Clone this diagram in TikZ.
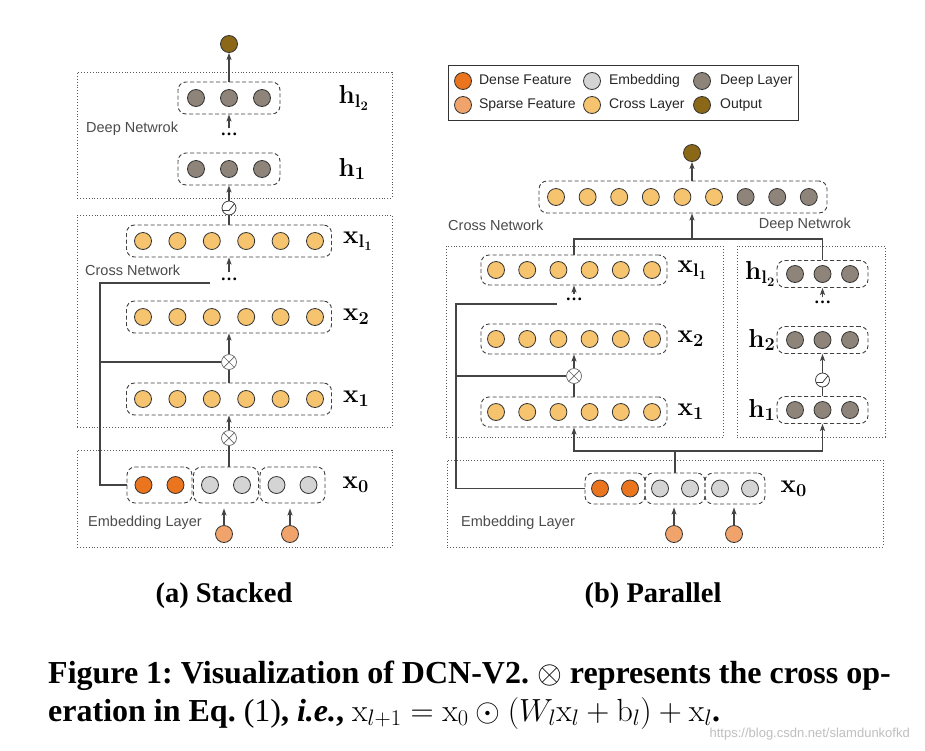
\documentclass[tikz,border=0pt]{standalone}
\usepackage{fix-cm}
\usepackage[no-math]{fontspec}
\setmainfont{Liberation Serif}
\setsansfont{Liberation Sans}
\usepackage{tikz}
\usetikzlibrary{arrows.meta,positioning}
\definecolor{densec}{RGB}{234,117,30}
\definecolor{sparsec}{RGB}{241,163,108}
\definecolor{embc}{RGB}{212,212,212}
\definecolor{crossc}{RGB}{246,196,110}
\definecolor{deepc}{RGB}{142,132,122}
\definecolor{outc}{RGB}{139,104,24}
\definecolor{linec}{RGB}{68,68,68}
\tikzset{
    neuron/.style={
           circle,
           draw=black!80, line width=0.8pt,
           inner sep=0pt,
           minimum size=17pt,
           },
    denseu/.style={neuron, fill=densec},
    sparseu/.style={neuron, fill=sparsec},
    embu/.style={neuron, fill=embc},
    crossu/.style={neuron, fill=crossc},
    deepu/.style={neuron, fill=deepc},
    outu/.style={neuron, fill=outc},
}
\tikzset{
    rowbox/.style={
           rectangle,
           rounded corners=8pt,
           draw=black!75, line width=0.9pt,
           dash pattern=on 4pt off 2.5pt,
           inner sep=0pt,
           },
    net/.style={
           rectangle,
           draw=black!65, line width=0.9pt,
           dash pattern=on 0.9pt off 2pt,
           inner sep=0pt,
           },
    conn/.style={draw=linec, line width=1.1pt},
    conn arrow/.style={conn, -{Stealth[length=7pt,width=5pt,inset=1.5pt]}},
    crossop/.style={
           circle,
           draw=black!60, fill=white, line width=0.7pt,
           inner sep=0pt, minimum size=15pt,
           path picture={\draw[black!60, line width=0.7pt]
              (path picture bounding box.north west) -- (path picture bounding box.south east)
              (path picture bounding box.north east) -- (path picture bounding box.south west);},
           },
    relu/.style={
           circle,
           draw=black!75, fill=white, line width=0.8pt,
           inner sep=0pt, minimum size=14pt,
           path picture={\draw[black!75, line width=0.8pt]
              ([shift={(-8pt,-2.5pt)}]path picture bounding box.center)
              -- ([shift={(0pt,-2.5pt)}]path picture bounding box.center)
              -- ([shift={(6pt,5pt)}]path picture bounding box.center);},
           },
    lbl/.style={font=\sffamily\fontsize{14.5}{16}\selectfont, text=black!70, inner sep=0pt},
    lgtxt/.style={font=\sffamily\fontsize{14}{16}\selectfont, text=black!85, inner sep=0pt,
           text height=10pt, text depth=3pt},
    varlbl/.style={font=\fontsize{26}{26}\selectfont, inner sep=0pt},
    ellip/.style={font=\bfseries\fontsize{17}{17}\selectfont, inner sep=0pt},
    capt/.style={font=\frenchspacing\bfseries\fontsize{32}{36}\selectfont, anchor=base west, inner sep=0pt},
}

\begin{document}
\begin{tikzpicture}[x=1pt,y=-1pt]
\useasboundingbox[fill=white] (0,0) rectangle (925,750);

% (a) stacked
\node[net, minimum width=315pt, minimum height=126pt](adeep) at (234.5,135){};
\node[net, minimum width=315pt, minimum height=212pt](across) at (234.5,321){};
\node[net, minimum width=315pt, minimum height=97pt](aemb) at (234.5,498.5){};
\node[lbl, anchor=west](adeeplbl) at (86,129){Deep Netwrok};
\node[lbl, anchor=west](acrosslbl) at (85,270){Cross Network};
\node[lbl, anchor=west](aemblbl) at (88,523){Embedding Layer};

\node[outu](aout) at (229,44){};
\node[rowbox, minimum width=102pt, minimum height=32pt](ahl2) at (229,98){};
\foreach \i in {1,2,3} \node[deepu](ahl2-\i) at ({229+33*(\i-2)},98){};
\node[ellip](ahdots) at (229,134){\ldots};
\node[rowbox, minimum width=102pt, minimum height=32pt](ah1) at (229,169){};
\foreach \i in {1,2,3} \node[deepu](ah1-\i) at ({229+33*(\i-2)},169){};
\node[varlbl, right = 58pt of ahl2](ahl2lbl){$\mathbf{h}_{\mathbf{l}_{\mathbf{2}}}$};
\node[varlbl, right = 58pt of ah1](ah1lbl){$\mathbf{h}_{\mathbf{1}}$};
\node[relu](aact) at (229,208){};

\node[rowbox, minimum width=205pt, minimum height=32pt](axl1) at (229,241){};
\foreach \i in {1,...,6} \node[crossu](axl1-\i) at ({229+34.4*(\i-3.5)},241){};
\node[ellip](axdots) at (229,279){\ldots};
\node[rowbox, minimum width=205pt, minimum height=32pt](ax2) at (229,317){};
\foreach \i in {1,...,6} \node[crossu](ax2-\i) at ({229+34.4*(\i-3.5)},317){};
\node[crossop](aop2) at (229,362){};
\node[rowbox, minimum width=205pt, minimum height=32pt](ax1) at (229,399){};
\foreach \i in {1,...,6} \node[crossu](ax1-\i) at ({229+34.4*(\i-3.5)},399){};
\node[crossop](aop1) at (229,438){};
\node[varlbl, right = 11pt of axl1](axl1lbl){$\mathbf{x}_{\mathbf{l}_{\mathbf{1}}}$};
\node[varlbl, right = 11pt of ax2](ax2lbl){$\mathbf{x}_{\mathbf{2}}$};
\node[varlbl, right = 11pt of ax1](ax1lbl){$\mathbf{x}_{\mathbf{1}}$};

\node[rowbox, minimum width=65pt, minimum height=36pt](ax0a) at (159.5,485){};
\node[rowbox, minimum width=65pt, minimum height=36pt](ax0b) at (226,485){};
\node[rowbox, minimum width=65pt, minimum height=36pt](ax0c) at (292.5,485){};
\node[denseu](ax0-1) at (143.5,485){};
\node[denseu](ax0-2) at (175.5,485){};
\node[embu](ax0-3) at (210,485){};
\node[embu](ax0-4) at (242,485){};
\node[embu](ax0-5) at (276.5,485){};
\node[embu](ax0-6) at (308.5,485){};
\node[varlbl, right = 17pt of ax0c](ax0lbl){$\mathbf{x}_{\mathbf{0}}$};
\node[sparseu](asp1) at (224,534){};
\node[sparseu](asp2) at (290,534){};

\coordinate (askip) at (100,283);
\coordinate (aend) at (210,283);
\draw[conn arrow, shorten >=5pt] (asp1) -- (asp1 |- ax0b.south);
\draw[conn arrow, shorten >=5pt] (asp2) -- (asp2 |- ax0c.south);
\draw[conn] (ax0b.north -| aop1) -- (aop1);
\draw[conn arrow] (aop1) -- (ax1);
\draw[conn] (ax0a.west) -| (askip) -- (aend);
\draw[conn] (askip |- aop2) -- (aop2);
\draw[conn] (ax1) -- (aop2);
\draw[conn arrow] (aop2) -- (ax2);
\draw[conn arrow, shorten <=5pt] (axdots) -- (axl1);
\draw[conn] (axl1) -- (aact);
\draw[conn arrow] (aact) -- (ah1);
\draw[conn arrow, shorten <=4pt] (ahdots) -- (ahl2);
\draw[conn arrow] (ahl2) -- (aout);

% (b) parallel
\node[draw=black!80, line width=0.9pt, minimum width=350pt, minimum height=55pt, inner sep=0pt](legend) at (623,92.5){};
\node[denseu](lg1) at (463,81){};
\node[lgtxt, right = 7pt of lg1](lg1t){Dense Feature};
\node[sparseu](lg2) at (463,105){};
\node[lgtxt, right = 7pt of lg2](lg2t){Sparse Feature};
\node[embu](lg3) at (592,81){};
\node[lgtxt, right = 8pt of lg3](lg3t){Embedding};
\node[crossu](lg4) at (592,105){};
\node[lgtxt, right = 8pt of lg4](lg4t){Cross Layer};
\node[deepu](lg5) at (702,81){};
\node[lgtxt, right = 9pt of lg5](lg5t){Deep Layer};
\node[outu](lg6) at (702,105){};
\node[lgtxt, right = 9pt of lg6](lg6t){Output};

\node[outu](bout) at (692,153){};
\node[rowbox, minimum width=288pt, minimum height=32pt](bcat) at (683,197){};
\foreach \i in {1,...,6} \node[crossu](bcat-\i) at ({556+31.6*(\i-1)},197){};
\foreach \i in {7,8,9} \node[deepu](bcat-\i) at ({556+31.6*(\i-1)},197){};
\node[lbl, anchor=west](bcrosslbl) at (448,225){Cross Network};
\node[lbl, anchor=east](bdeeplbl) at (851,225){Deep Netwrok};

\node[net, minimum width=277pt, minimum height=191pt](bcross) at (584.5,341.5){};
\node[net, minimum width=148pt, minimum height=191pt](bdeep) at (811,341.5){};
\node[net, minimum width=436pt, minimum height=87pt](bemb) at (665,503.5){};
\node[lbl, anchor=west](bemblbl) at (461,523){Embedding Layer};

\node[rowbox, minimum width=186pt, minimum height=30pt](bxl1) at (574,270){};
\foreach \i in {1,...,6} \node[crossu](bxl1-\i) at ({574+31.2*(\i-3.5)},270){};
\node[ellip](bxdots) at (574,299){\ldots};
\node[rowbox, minimum width=186pt, minimum height=30pt](bx2) at (574,339){};
\foreach \i in {1,...,6} \node[crossu](bx2-\i) at ({574+31.2*(\i-3.5)},339){};
\node[crossop](bop) at (574,376){};
\node[rowbox, minimum width=186pt, minimum height=30pt](bx1) at (574,412){};
\foreach \i in {1,...,6} \node[crossu](bx1-\i) at ({574+31.2*(\i-3.5)},412){};
\node[varlbl, right = 10pt of bxl1](bxl1lbl){$\mathbf{x}_{\mathbf{l}_{\mathbf{1}}}$};
\node[varlbl, right = 10pt of bx2](bx2lbl){$\mathbf{x}_{\mathbf{2}}$};
\node[varlbl, right = 10pt of bx1](bx1lbl){$\mathbf{x}_{\mathbf{1}}$};

\node[rowbox, minimum width=91pt, minimum height=27pt](bhl2) at (822.5,274){};
\foreach \i in {1,2,3} \node[deepu](bhl2-\i) at ({822.5+27.5*(\i-2)},274){};
\node[ellip](bhdots) at (822.5,302){\ldots};
\node[rowbox, minimum width=91pt, minimum height=27pt](bh2) at (822.5,340){};
\foreach \i in {1,2,3} \node[deepu](bh2-\i) at ({822.5+27.5*(\i-2)},340){};
\node[relu](bact) at (822.5,380){};
\node[rowbox, minimum width=91pt, minimum height=27pt](bh1) at (822.5,410){};
\foreach \i in {1,2,3} \node[deepu](bh1-\i) at ({822.5+27.5*(\i-2)},410){};
\node[varlbl, left = 1pt of bhl2](bhl2lbl){$\mathbf{h}_{\mathbf{l}_{\mathbf{2}}}$};
\node[varlbl, left = 1pt of bh2](bh2lbl){$\mathbf{h}_{\mathbf{2}}$};
\node[varlbl, left = 1pt of bh1](bh1lbl){$\mathbf{h}_{\mathbf{1}}$};

\node[rowbox, minimum width=60pt, minimum height=31pt](bx0a) at (615,488.5){};
\node[rowbox, minimum width=60pt, minimum height=31pt](bx0b) at (675,488.5){};
\node[rowbox, minimum width=60pt, minimum height=31pt](bx0c) at (735,488.5){};
\node[denseu](bx0-1) at (600,488.5){};
\node[denseu](bx0-2) at (630,488.5){};
\node[embu](bx0-3) at (660,488.5){};
\node[embu](bx0-4) at (690,488.5){};
\node[embu](bx0-5) at (720,488.5){};
\node[embu](bx0-6) at (750,488.5){};
\node[varlbl, right = 15pt of bx0c](bx0lbl){$\mathbf{x}_{\mathbf{0}}$};
\node[sparseu](bsp1) at (674,534){};
\node[sparseu](bsp2) at (734,534){};

\coordinate (bskip) at (456,304);
\coordinate (bend) at (557,304);
\coordinate (bjoin) at (692,239);
\coordinate (bfork) at (675,451);
\draw[conn arrow, shorten >=3pt] (bsp1) -- (bsp1 |- bx0b.south);
\draw[conn arrow, shorten >=3pt] (bsp2) -- (bsp2 |- bx0c.south);
\draw[conn] (bx0b.north) -- (bfork);
\draw[conn arrow] (bfork) -| (bx1.south);
\draw[conn arrow] (bfork) -| (bh1.south);
\draw[conn] (bx1) -- (bop);
\draw[conn arrow] (bop) -- (bx2);
\draw[conn arrow, shorten <=3pt] (bxdots) -- (bxl1);
\draw[conn] (bx0a.west) -| (bskip) -- (bend);
\draw[conn] (bskip |- bop) -- (bop);
\draw[conn] (bh1) -- (bact);
\draw[conn arrow] (bact) -- (bh2);
\draw[conn arrow, shorten <=3pt] (bhdots) -- (bhl2);
\draw[conn] (bxl1.north) |- (bjoin) -| (bhl2.north);
\draw[conn arrow] (bjoin) -- (bjoin |- bcat.south);
\draw[conn arrow] (bcat.north -| bout) -- (bout);

% captions
\node[font=\bfseries\fontsize{28.5}{30}\selectfont, anchor=base](acap) at (224,602){(a) Stacked};
\node[font=\bfseries\fontsize{28.5}{30}\selectfont, anchor=base](bcap) at (653,602){(b) Parallel};
\node[capt](cap1) at (48,683)
    {Figure 1: Visualization of DCN-V2. $\otimes$ represents the cross op-};
\node[capt](cap2) at (48,721)
    {eration in Eq. {\mdseries(1)}, \textit{i.e.}, $\mathrm{x}_{l+1}=\mathrm{x}_0\odot(W_l\mathrm{x}_l+\mathrm{b}_l)+\mathrm{x}_l$.};
\node[font=\sffamily\fontsize{13}{13}\selectfont, text=black!25, anchor=base east, inner sep=0pt](wmark) at (910,737)
    {https://blog.csdn.net/slamdunkofkd};
\end{tikzpicture}
\end{document}
